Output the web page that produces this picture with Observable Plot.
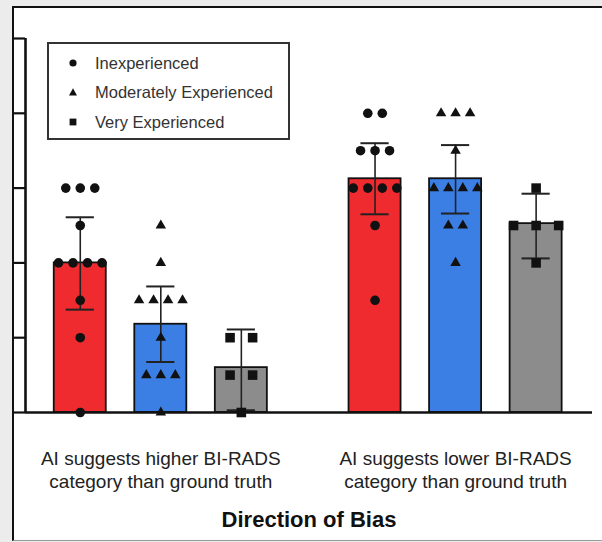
<!DOCTYPE html>
<html>
<head>
<meta charset="utf-8">
<script src="https://cdn.jsdelivr.net/npm/d3@7"></script>
<script src="https://cdn.jsdelivr.net/npm/@observablehq/plot@0.6"></script>
<style>
  html, body { margin: 0; padding: 0; }
  body { width: 602px; height: 542px; background: #ececec; position: relative; overflow: hidden;
         font-family: "Liberation Sans", Arial, sans-serif; }
  #panel { position: absolute; left: 12px; top: 6px; width: 590px; height: 535px; box-sizing: border-box;
           background: #fff; border-left: 2px solid #111; border-top: 2px solid #111; border-bottom: 1px solid #999; }
  #chart { position: absolute; left: 0; top: 0; }
  #legend { position: absolute; left: 47px; top: 42px; width: 243px; height: 98px; box-sizing: border-box;
            border: 2px solid #333; background: #fff; }
  .row { position: absolute; left: 0; height: 20px; display: flex; align-items: center; }
  .row svg { position: absolute; left: 19px; }
  .row span { position: absolute; left: 46px; white-space: nowrap; font-size: 16.5px; color: #333; }
</style>
</head>
<body>
<div id="panel"></div>
<div id="chart"></div>
<div id="legend"></div>
<script>
// ---- data ----
const groups = ["AI suggests higher BI-RADS\ncategory than ground truth",
                "AI suggests lower BI-RADS\ncategory than ground truth"];
const levels = ["Inexperienced", "Moderately Experienced", "Very Experienced"];
const axisTitle = "Direction of Bias";
const yTicks = [0, 2, 4, 6, 8, 10];

// individual observations (value per reader)
const inexpHigher = [0, 2, 3, 4, 4, 4, 4, 5, 6, 6, 6];
const modHigher   = [0, 1, 1, 1, 2, 3, 3, 3, 3, 4, 5];
const veryHigher  = [0, 1, 1, 2, 2];
const inexpLower  = [3, 5, 6, 6, 6, 6, 7, 7, 7, 8, 8];
const modLower    = [4, 5, 5, 6, 6, 6, 6, 7, 8, 8, 8];
const veryLower   = [4, 5, 5, 5, 6];

// bar heights (means) and error bar ends (95% CI)
const meansHigher = [4.0, 2.36, 1.2];
const ciLowHigher = [2.75, 1.35, 0.06];
const ciHighHigher = [5.22, 3.37, 2.22];
const meansLower = [6.25, 6.25, 5.05];
const ciLowLower = [5.3, 5.32, 4.12];
const ciHighLower = [7.2, 7.15, 5.85];

// ---- styling / layout ----
const colors = ["#ef2b2f", "#3b7fe4", "#8c8c8c"];
const symbols = ["circle", "triangle", "square"];
const symbolR = [4.8, 3.9, 5.4];
const groupShift = 3.66;          // slot offset of the second group
const halfBar = 0.323;            // half bar width (slot units)
const capHalf = 0.175;            // half cap width
const xDomain = [-0.68, 6.36];
const jitter = [0.18, 0.18, 0.28]; // horizontal spacing of points per level

const series = [
  [inexpHigher, modHigher, veryHigher],
  [inexpLower, modLower, veryLower]
];
const means = [meansHigher, meansLower];
const lows = [ciLowHigher, ciLowLower];
const highs = [ciHighHigher, ciHighLower];

const bars = [];
const points = [];
groups.forEach((g, gi) => {
  levels.forEach((lv, li) => {
    const pos = gi * groupShift + li;
    bars.push({group: g, level: lv, pos, mean: means[gi][li], lo: lows[gi][li], hi: highs[gi][li]});
    const vals = series[gi][li];
    const counts = d3.rollup(vals, v => v.length, v => v);
    const seen = new Map();
    vals.forEach(v => {
      const n = counts.get(v);
      const i = seen.get(v) || 0;
      seen.set(v, i + 1);
      points.push({level: lv, value: v, size: symbolR[li], px: pos + (i - (n - 1) / 2) * jitter[li]});
    });
  });
});
const groupLabels = groups.map((g, gi) => ({label: g, center: gi * groupShift + 1}));

const chart = Plot.plot({
  width: 602,
  height: 542,
  marginLeft: 25,
  marginRight: 10,
  marginTop: 38,
  marginBottom: 130,
  style: {background: "transparent", fontFamily: "'Liberation Sans', Arial, sans-serif", overflow: "visible"},
  x: {domain: xDomain, axis: null},
  y: {domain: [0, 10], axis: null},
  r: {type: "identity"},
  color: {domain: levels, range: colors},
  symbol: {domain: levels, range: symbols},
  marks: [
    Plot.axisY({ticks: yTicks, tickSize: 11, tickFormat: () => "", stroke: "#111", strokeWidth: 2.2, label: null}),
    Plot.rectY(bars, {x1: d => d.pos - halfBar, x2: d => d.pos + halfBar, y1: 0, y2: "mean",
                      fill: "level", stroke: "#111", strokeWidth: 1.8}),
    Plot.ruleX(bars, {x: "pos", y1: "lo", y2: "hi", stroke: "#222", strokeWidth: 1.6}),
    Plot.ruleY(bars, {y: "hi", x1: d => d.pos - capHalf, x2: d => d.pos + capHalf, stroke: "#222", strokeWidth: 2}),
    Plot.ruleY(bars, {y: "lo", x1: d => d.pos - capHalf, x2: d => d.pos + capHalf, stroke: "#222", strokeWidth: 2}),
    Plot.ruleY([0], {stroke: "#111", strokeWidth: 2.6}),
    Plot.ruleX([xDomain[0]], {y1: 0, y2: 10, stroke: "#111", strokeWidth: 2.6}),
    Plot.dot(points, {x: "px", y: "value", symbol: "level", fill: "#111", r: "size"}),
    Plot.text(groupLabels, {x: "center", text: "label", frameAnchor: "bottom", dy: 75,
                            fontSize: 19, lineHeight: 1.2, fill: "#222"}),
    Plot.text([axisTitle], {frameAnchor: "bottom", dy: 114, fontSize: 22, fontWeight: "bold", fill: "#111"})
  ]
});
document.getElementById("chart").appendChild(chart);

// legend
const legend = document.getElementById("legend");
const shapes = {
  circle: '<circle cx="5" cy="5" r="3.6" fill="#111"/>',
  triangle: '<path d="M5 1.2 L9 8.4 L1 8.4 Z" fill="#111"/>',
  square: '<rect x="1.6" y="1.6" width="6.8" height="6.8" fill="#111"/>'
};
const rowTops = [9, 38, 68];
levels.forEach((lv, i) => {
  const row = document.createElement("div");
  row.className = "row";
  row.style.top = rowTops[i] + "px";
  row.innerHTML = `<svg width="10" height="10" viewBox="0 0 10 10">${shapes[symbols[i]]}</svg><span>${lv}</span>`;
  legend.appendChild(row);
});
</script>
</body>
</html>
